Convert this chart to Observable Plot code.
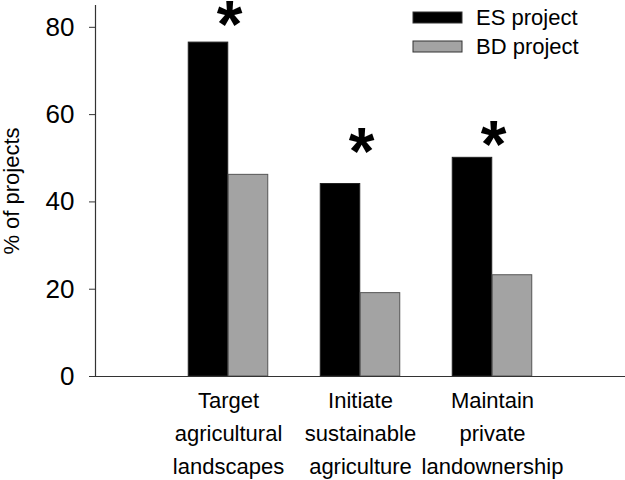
<!DOCTYPE html>
<html><head><meta charset="utf-8">
<script src="https://cdn.jsdelivr.net/npm/d3@7"></script>
<script src="https://cdn.jsdelivr.net/npm/@observablehq/plot@0.6"></script>
<style>
body{margin:0;background:#fff}
#wrap{position:relative;width:625px;height:480px;font-family:"Liberation Sans",Arial,sans-serif}
#legend{position:absolute;left:413px;top:3px}
.lg-swatches{font-family:"Liberation Sans",Arial,sans-serif!important;font-size:22px!important;color:#000}
.lg-swatch{display:flex!important;align-items:center;height:29px;padding:0!important;margin:0!important}
.lg-swatch svg{margin-right:14px!important;overflow:visible}
.lg-swatch svg rect{stroke:#333;stroke-width:1}
</style></head><body><div id="wrap"></div>
<script>
const categories = ["Target agricultural landscapes", "Initiate sustainable agriculture", "Maintain private landownership"];
const tickLabels = ["Target\nagricultural\nlandscapes", "Initiate\nsustainable\nagriculture", "Maintain\nprivate\nlandownership"];
const series = ["ES project", "BD project"];
const esValues = [76.5, 44.1, 50.1];
const bdValues = [46.2, 19.1, 23.2];
const starLevels = [83.1, 54.0, 55.5];
const yTicks = [0, 20, 40, 60, 80];
const colors = ["#000000", "#a3a3a3"];

const rows = categories.flatMap((c, i) => [
  {category: c, series: series[0], value: esValues[i]},
  {category: c, series: series[1], value: bdValues[i]}
]);
const stars = categories.map((c, i) => ({category: c, level: starLevels[i]}));
const labelRows = categories.map((c, i) => ({category: c, label: tickLabels[i]}));
const font = "Liberation Sans, Arial, sans-serif";

const chart = Plot.plot({
  width: 625, height: 480,
  marginLeft: 95, marginRight: 0, marginTop: 5, marginBottom: 104,
  style: {fontFamily: font, background: "#fff", color: "#000"},
  x: {domain: categories, paddingInner: 0, paddingOuter: 0.5, axis: null},
  y: {domain: [0, 85]},
  color: {domain: series, range: colors},
  marks: [
    Plot.axisY({ticks: yTicks, tickSize: 6, tickPadding: 15, fontSize: 26, stroke: "#333", label: null}),
    Plot.axisY({ticks: [], tickSize: 0, fontSize: 22, label: "% of projects", labelAnchor: "center", labelOffset: 92, labelArrow: "none"}),
    Plot.frame({anchor: "left", stroke: "#333", strokeWidth: 1.2}),
    Plot.barY(rows.filter(d => d.series === series[0]), {x: "category", y: "value", fill: "series", stroke: "#222", strokeWidth: 1, insetLeft: 26.25, insetRight: 66.25}),
    Plot.barY(rows.filter(d => d.series === series[1]), {x: "category", y: "value", fill: "series", stroke: "#555", strokeWidth: 1, insetLeft: 66.25, insetRight: 26.25}),
    Plot.ruleY([0], {stroke: "#333", strokeWidth: 1.2}),
    Plot.text(stars, {x: "category", y: "level", text: () => "*", fontSize: 66, fontWeight: "bold", lineAnchor: "middle", dy: 12, dx: 1}),
    Plot.text(labelRows, {x: "category", frameAnchor: "bottom", text: "label", fontSize: 22, lineAnchor: "top", lineHeight: 1.5, dy: 8})
  ]
});

const wrap = document.getElementById("wrap");
wrap.appendChild(chart);
const lg = Plot.legend({color: {domain: series, range: colors}, legend: "swatches", columns: 1, swatchWidth: 49, swatchHeight: 11, className: "lg"});
const holder = document.createElement("div");
holder.id = "legend";
holder.appendChild(lg);
wrap.appendChild(holder);
</script></body></html>
